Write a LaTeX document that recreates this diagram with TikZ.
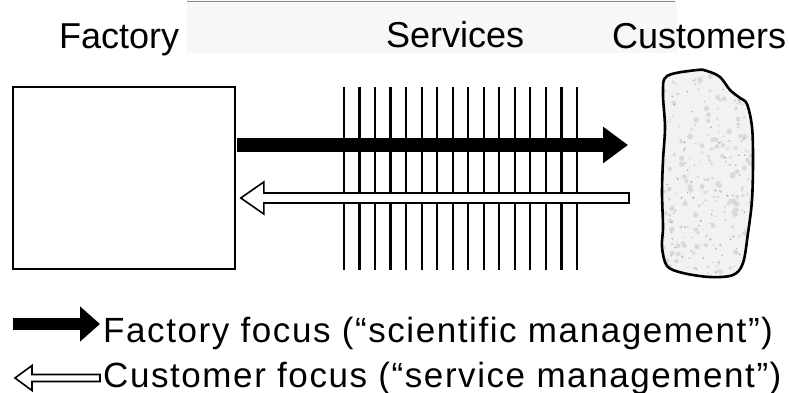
\documentclass[tikz,border=0pt]{standalone}
\usepackage{fontspec}
\setmainfont{Liberation Sans}
\usetikzlibrary{calc,arrows.meta}
\begin{document}
\begin{tikzpicture}[x=1pt,y=-1pt,
  heading/.style={inner sep=0pt, anchor=base west, font=\fontsize{36}{40}\selectfont},
  legendtext/.style={inner sep=0pt, anchor=base west,
    font=\fontsize{35}{40}\selectfont\addfontfeature{LetterSpace=4.5}},
  outline/.style={draw, line width=1.6pt, line join=miter},
  grid line/.style={line width=2.2pt},
  solid arrow/.style={line width=14pt, -{Triangle[length=25pt,width=35pt]}},
  hollow arrow/.style={fill=white, draw, line width=1.6pt, line join=miter}]
\useasboundingbox (0,0) rectangle (789,393);

% faint strip behind the headings, with its ruled top edge
\fill[black!3] (187,0) rectangle (677,53);
\draw[black!45, line width=1.5pt] (187,1.5) -- (675,1.5);

% headings
\node[heading] (hfactory) at (59,49) {Factory};
\node[heading] (hservices) at (386,48) {Services};
\node[heading] (hcustomers) at (612,49) {Customers};

% the factory
\node[outline, minimum width=222pt, minimum height=182pt, inner sep=0pt] (factory) at (124,178) {};

% the services: a comb of vertical bars
\foreach \i in {0,...,15}
  \draw[grid line] ({344+15.53*\i},87) -- ({344+15.53*\i},270);

% the customers: an irregular speckled blob
\begin{scope}
  \clip plot[smooth cycle, tension=0.55] coordinates {
    (697,70) (707,71) (720,77) (730,90) (740,98) (747,104) (752,127)
    (753,160) (752,200) (748,233) (743,263) (733,275) (710,277)
    (683,273) (667,266) (662,247) (663,227) (662,193) (663,160)
    (665,127) (663,93) (667,76)};
  \fill[black!5] (655,65) rectangle (760,285);
  \pgfmathsetseed{7}
  \foreach \k in {1,...,200}
    \fill[black!15] ({660+95*rnd},{68+212*rnd}) circle ({0.8+2*rnd});
  \foreach \k in {1,...,120}
    \fill[black!28] ({660+95*rnd},{68+212*rnd}) circle ({0.4+0.9*rnd});
\end{scope}
\draw[line width=2.6pt] plot[smooth cycle, tension=0.55] coordinates {
    (697,70) (707,71) (720,77) (730,90) (740,98) (747,104) (752,127)
    (753,160) (752,200) (748,233) (743,263) (733,275) (710,277)
    (683,273) (667,266) (662,247) (663,227) (662,193) (663,160)
    (665,127) (663,93) (667,76)};
\coordinate (customers) at (662,178);

% factory focus: solid arrow from the factory towards the customers
\coordinate (bstart) at ($(factory.east)+(1,-33)$);
\coordinate (btip) at ($(customers)+(-34,-33)$);
\draw[solid arrow] (bstart) -- (btip);

% customer focus: hollow arrow from the customers back to the factory
\coordinate (wtip) at ($(factory.east)+(5,20)$);
\coordinate (wtail) at ($(customers)+(-33,20)$);
\filldraw[hollow arrow] (wtip) -- ++(23,-16) -- ++(0,11)
  -- ($(wtail)+(0,-5)$) -- ($(wtail)+(0,5)$)
  -- ($(wtip)+(23,5)$) -- ++(0,11) -- cycle;

% legend
\node[legendtext] (lg1) at (103,342) {Factory focus (“scientific management”)};
\node[legendtext] (lg2) at (103,387) {Customer focus (“service management”)};

\coordinate (l1tip) at ($(lg1.base west)+(-3,-18)$);
\draw[line width=12pt, -{Triangle[length=20pt,width=34pt]}] ($(l1tip)+(-87,0)$) -- (l1tip);

\coordinate (l2end) at ($(lg2.base west)+(-3,-9)$);
\coordinate (l2tip) at ($(l2end)+(-85,0)$);
\filldraw[hollow arrow] (l2tip) -- ++(17,-12.5) -- ++(0,9)
  -- ($(l2end)+(0,-3.5)$) -- ($(l2end)+(0,3.5)$)
  -- ($(l2tip)+(17,3.5)$) -- ++(0,9) -- cycle;
\end{tikzpicture}
\end{document}
